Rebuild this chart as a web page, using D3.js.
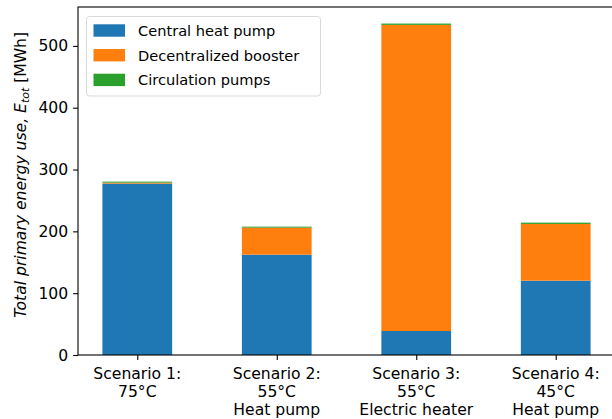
<!DOCTYPE html>
<html>
<head>
<meta charset="utf-8">
<script src="https://cdn.jsdelivr.net/npm/d3@7"></script>
<style>
body { margin: 0; background: white; }
text { font-family: "DejaVu Sans", sans-serif; }
</style>
</head>
<body>
<svg id="chart" width="612" height="419"></svg>
<script>
// data (MWh)
var scenarios = [
  ["Scenario 1:", "75°C"],
  ["Scenario 2:", "55°C", "Heat pump"],
  ["Scenario 3:", "55°C", "Electric heater"],
  ["Scenario 4:", "45°C", "Heat pump"]
];
var centralHeatPump = [277.2, 162.3, 38.8, 120.2];
var decentralBooster = [1.6, 43.7, 495.2, 91.8];
var circulationPumps = [1.6, 1.6, 2.1, 2.1];
var seriesNames = ["Central heat pump", "Decentralized booster", "Circulation pumps"];
var colors = ["#1f77b4", "#ff7f0e", "#2ca02c"];
var yTicks = [0, 100, 200, 300, 400, 500];

var tickFont = 15.6, legendFont = 14.6, labelFont = 15.6;
var plotLeft = 78, plotTop = 7, plotBottom = 355, plotRight = 615;

var svg = d3.select("#chart");

var rows = scenarios.map(function(s, i) {
  return { i: i, c: centralHeatPump[i], d: decentralBooster[i], p: circulationPumps[i] };
});
var stack = d3.stack().keys(["c", "d", "p"]);
var layers = stack(rows);

var totals = rows.map(function(r) { return r.c + r.d + r.p; });
var ymax = d3.max(totals) * 1.05;

var x = d3.scaleLinear().domain([-0.425, 3.425]).range([plotLeft, plotRight]);
var y = d3.scaleLinear().domain([0, ymax]).range([plotBottom, plotTop]);
var barW = x(0.5) - x(0);

var g = svg.append("g");

g.selectAll("g.layer")
  .data(layers)
  .enter().append("g")
  .attr("class", "layer")
  .attr("fill", function(d, i) { return colors[i]; })
  .selectAll("rect")
  .data(function(d) { return d; })
  .enter().append("rect")
  .attr("x", function(d, i) { return x(i) - barW / 2; })
  .attr("width", barW)
  .attr("y", function(d) { return y(d[1]); })
  .attr("height", function(d) { return y(d[0]) - y(d[1]); });

// y axis
var yAxis = d3.axisLeft(y).tickValues(yTicks).tickSize(4.9).tickPadding(4.9);
var ya = svg.append("g").attr("transform", "translate(" + plotLeft + ",0)").call(yAxis);
ya.select(".domain").remove();
ya.selectAll("line").attr("stroke", "#000").attr("stroke-width", 1.1);
ya.selectAll("text").attr("font-size", tickFont).attr("fill", "#000")
  .attr("font-family", "DejaVu Sans");

// x axis
var xAxis = d3.axisBottom(x).tickValues([0, 1, 2, 3]).tickSize(4.9).tickFormat("");
var xa = svg.append("g").attr("transform", "translate(0," + plotBottom + ")").call(xAxis);
xa.select(".domain").remove();
xa.selectAll("line").attr("stroke", "#000").attr("stroke-width", 1.1);

scenarios.forEach(function(lines, i) {
  var t = svg.append("text")
    .attr("text-anchor", "middle")
    .attr("font-size", tickFont)
    .attr("fill", "#000");
  lines.forEach(function(l, j) {
    t.append("tspan").attr("x", x(i)).attr("y", 379 + j * 18.2).text(l);
  });
});

// spines
svg.append("rect")
  .attr("x", plotLeft).attr("y", plotTop)
  .attr("width", plotRight - plotLeft).attr("height", plotBottom - plotTop)
  .attr("fill", "none").attr("stroke", "#000").attr("stroke-width", 1.1);

// y label
var yl = svg.append("text")
  .attr("transform", "translate(25.5,175) rotate(-90)")
  .attr("text-anchor", "middle")
  .attr("font-size", labelFont)
  .attr("font-style", "italic")
  .attr("fill", "#000");
yl.append("tspan").text("Total primary energy use, ");
yl.append("tspan").text("E");
yl.append("tspan").attr("font-size", labelFont * 0.7).attr("dy", 3).text("tot");
yl.append("tspan").attr("dy", -3).attr("font-style", "normal").text(" [MWh]");

// legend
var lg = svg.append("g");
lg.append("rect")
  .attr("x", 86.5).attr("y", 16.5).attr("width", 234).attr("height", 79.5)
  .attr("rx", 3).attr("fill", "white").attr("fill-opacity", 0.8)
  .attr("stroke", "#d9d9d9").attr("stroke-width", 1);
seriesNames.forEach(function(n, i) {
  var cy = 30.5 + i * 24.7;
  lg.append("rect").attr("x", 93.5).attr("y", cy - 6.2).attr("width", 31.5).attr("height", 12.4)
    .attr("fill", colors[i]);
  lg.append("text").attr("x", 138).attr("y", cy + 5.3).attr("font-size", legendFont)
    .attr("fill", "#000").text(n);
});
</script>
</body>
</html>
